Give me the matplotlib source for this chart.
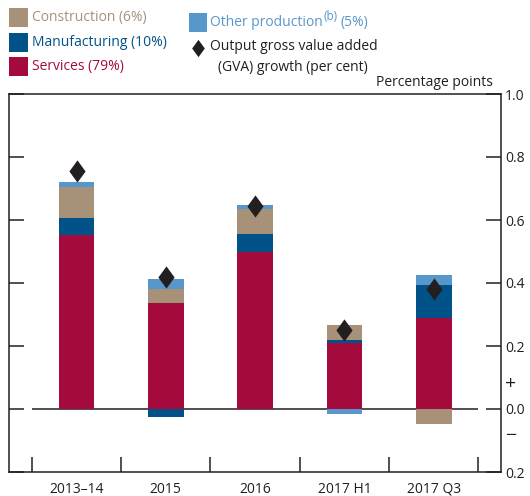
import numpy as np
import matplotlib
matplotlib.use("Agg")
import matplotlib.pyplot as plt
from matplotlib.path import Path

plt.rcParams['font.family'] = ['Open Sans', 'DejaVu Sans']
plt.rcParams['font.size'] = 10

# contributions to GVA growth, percentage points
categories = ['2013–14', '2015', '2016', '2017 H1', '2017 Q3']
services = [0.553, 0.336, 0.499, 0.208, 0.288]
manufacturing = [0.052, -0.025, 0.055, 0.012, 0.106]
construction = [0.100, 0.044, 0.081, 0.047, -0.047]
other_production = [0.017, 0.034, 0.014, -0.015, 0.031]
gva_growth = [0.757, 0.418, 0.643, 0.251, 0.380]

series = [
    ('Services (79%)', services, '#A50A3D'),
    ('Manufacturing (10%)', manufacturing, '#005289'),
    ('Construction (6%)', construction, '#A89179'),
    ('Other production (5%)', other_production, '#5897CB'),
]

ink = '#231F20'
W, H = 530, 496

fig = plt.figure(figsize=(W / 100, H / 100), dpi=100)
ax = fig.add_axes([9 / W, 1 - 472 / H, 492 / W, 378 / H])

x = np.arange(len(categories))
pos_base = np.zeros(len(categories))
neg_base = np.zeros(len(categories))
for name, vals, col in series:
    vals = np.array(vals)
    base = np.where(vals >= 0, pos_base, neg_base)
    ax.bar(x, vals, width=0.4, bottom=base, color=col, linewidth=0, zorder=2)
    pos_base += np.where(vals >= 0, vals, 0)
    neg_base += np.where(vals < 0, vals, 0)

# tall thin diamond for GVA growth
diamond = Path([(0, 1), (0.73, 0), (0, -1), (-0.73, 0), (0, 1)],
               [Path.MOVETO, Path.LINETO, Path.LINETO, Path.LINETO, Path.CLOSEPOLY])
ax.plot(x, gva_growth, linestyle='none', marker=diamond, markersize=16,
        color=ink, markeredgewidth=0, zorder=3)

ax.hlines(0, -0.5, len(categories) - 0.5, color=ink, linewidth=1.1, zorder=1)

ax.set_xlim(-0.756, 4.754)
ax.set_ylim(-0.2, 1.0)

for s in ax.spines.values():
    s.set_color(ink)
    s.set_linewidth(1.1)

yt = [-0.2, 0.0, 0.2, 0.4, 0.6, 0.8, 1.0]
ax.set_yticks(yt)
ax.set_yticklabels(['0.2', '0.0', '0.2', '0.4', '0.6', '0.8', '1.0'])
ax.tick_params(axis='y', direction='in', length=10.8, width=1.1, color=ink,
               left=True, right=True, labelleft=False, labelright=True,
               pad=3, labelcolor=ink, labelsize=10)

ax.set_xticks(x)
ax.set_xticklabels(categories)
ax.set_xticks(np.arange(len(categories) + 1) - 0.5, minor=True)
ax.tick_params(axis='x', which='major', length=0, pad=7, labelcolor=ink, labelsize=10)
ax.tick_params(axis='x', which='minor', direction='in', length=10.8, width=1.1,
               color=ink)

# sign markers beside the zero line
sign_x = (511 - 9) / 492
ax.text(sign_x, 0.078, '+', transform=ax.get_yaxis_transform(),
        ha='center', va='center', color=ink, fontsize=14)
ax.text(sign_x, -0.087, '−', transform=ax.get_yaxis_transform(),
        ha='center', va='center', color=ink, fontsize=14)


def fpos(px, py):
    return px / W, 1 - py / H


fig.text(*fpos(493, 82), 'Percentage points', ha='right', va='center', color=ink)

# legend
legend_rows = [
    (9, 17.5, 'Construction (6%)', '#A89179'),
    (9, 42.5, 'Manufacturing (10%)', '#005289'),
    (9, 66.5, 'Services (79%)', '#A50A3D'),
]
for px, py, label, col in legend_rows:
    fig.patches.append(plt.Rectangle(fpos(px, py + 9.3), 18.5 / W, 18.5 / H,
                                     transform=fig.transFigure, color=col,
                                     linewidth=0))
    fig.text(*fpos(31.5, py), label, ha='left', va='center', color=col)

blue = '#5897CB'
fig.patches.append(plt.Rectangle(fpos(188.5, 31.7), 18.5 / W, 18.5 / H,
                                 transform=fig.transFigure, color=blue, linewidth=0))
renderer = fig.canvas.get_renderer()
t1 = fig.text(*fpos(210, 22.5), 'Other production', ha='left', va='center', color=blue)
bb = t1.get_window_extent(renderer)
t2 = fig.text((bb.x1 + 1) / W, fpos(0, 17)[1], '(b)', ha='left', va='center',
              color=blue, fontsize=8.5)
bb2 = t2.get_window_extent(renderer)
fig.text((bb2.x1 + 3) / W, fpos(0, 22.5)[1], '(5%)', ha='left', va='center', color=blue)

fig.lines.append(plt.Line2D([fpos(197.7, 0)[0]], [fpos(0, 47.7)[1]],
                            transform=fig.transFigure, marker=diamond, markersize=12.5,
                            color=ink, markeredgewidth=0, linestyle='none'))
fig.text(*fpos(210.5, 46.5), 'Output gross value added', ha='left', va='center', color=ink)
fig.text(*fpos(218, 67.5), '(GVA) growth (per cent)', ha='left', va='center', color=ink)

fig.savefig('out.png', dpi=100)
